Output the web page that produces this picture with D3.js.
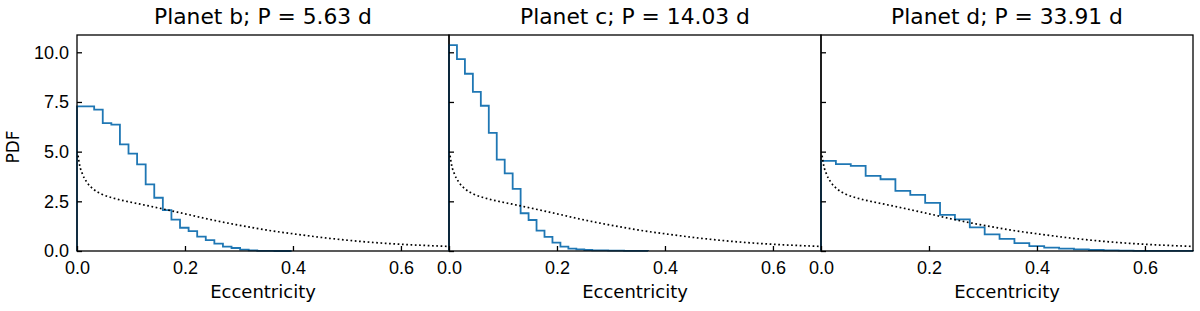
<!DOCTYPE html>
<html>
<head>
<meta charset="utf-8">
<script src="https://cdn.jsdelivr.net/npm/d3@7"></script>
<style>
  body { margin: 0; background: #fff; }
  svg { font-family: "DejaVu Sans", sans-serif; }
</style>
</head>
<body>
<div id="chart"></div>
<script>
// panel titles
const titles = ["Planet b; P = 5.63 d", "Planet c; P = 14.03 d", "Planet d; P = 33.91 d"];

// histogram bin widths (25 bins each, starting at e = 0)
const binWidths = [0.0159, 0.01474, 0.02756];

// step histogram heights
const pdfB = [7.28, 7.28, 7.11, 6.44, 6.36, 5.37, 4.90, 4.36, 3.35, 2.68, 2.06, 1.58, 1.17, 1.00, 0.72,
              0.55, 0.37, 0.22, 0.15, 0.07, 0.03, 0.01, 0.005, 0.0, 0.0];
const pdfC = [10.36, 9.66, 8.92, 8.01, 7.31, 5.94, 4.60, 3.91, 3.13, 1.90, 1.56, 1.03, 0.71, 0.42, 0.22,
              0.12, 0.08, 0.05, 0.03, 0.03, 0.02, 0.02, 0.01, 0.01, 0.01];
const pdfD = [4.54, 4.37, 4.28, 3.78, 3.61, 3.03, 2.82, 2.42, 1.82, 1.59, 1.19, 0.84, 0.61, 0.40, 0.25,
              0.17, 0.12, 0.08, 0.05, 0.03, 0.02, 0.01, 0.01, 0.005, 0.005];

// dotted prior curve (same in all panels)
const priorE   = [0.002, 0.005, 0.010, 0.018, 0.030, 0.046, 0.065, 0.090, 0.115, 0.145, 0.175, 0.210,
                  0.234, 0.280, 0.300, 0.350, 0.410, 0.470, 0.530, 0.600, 0.689];
const priorPdf = [4.80, 4.30, 3.88, 3.47, 3.12, 2.86, 2.68, 2.51, 2.37, 2.20, 2.02, 1.81,
                  1.66, 1.40, 1.30, 1.06, 0.83, 0.63, 0.47, 0.34, 0.23];

const xTicks = [0, 0.2, 0.4, 0.6];
const yTicks = [0, 2.5, 5, 7.5, 10];

const panels = [pdfB, pdfC, pdfD];

const W = 1200, H = 311;
const margin = { top: 35, left: 77 };
const panelW = 372, panelH = 216;

const svg = d3.select("#chart").append("svg")
    .attr("width", W)
    .attr("height", H);

const x = d3.scaleLinear().domain([0, 0.689]).range([0, panelW]);
const y = d3.scaleLinear().domain([0, 10.87]).range([panelH, 0]);

const stepLine = d3.line()
    .curve(d3.curveStepAfter)
    .x(d => x(d[0]))
    .y(d => y(d[1]));

const priorLine = d3.line()
    .curve(d3.curveMonotoneX)
    .x((d, i) => x(priorE[i]))
    .y(d => y(d));

panels.forEach((vals, p) => {
    const g = svg.append("g")
        .attr("transform", `translate(${margin.left + p * panelW},${margin.top})`);

    // build the step outline like matplotlib's histtype='step'
    const w = binWidths[p];
    const pts = [[0, 0]];
    vals.forEach((v, i) => pts.push([i * w, v]));
    pts.push([vals.length * w, vals[vals.length - 1]]);
    pts.push([vals.length * w, 0]);

    g.append("path")
        .attr("d", stepLine(pts))
        .attr("fill", "none")
        .attr("stroke", "#1f77b4")
        .attr("stroke-width", 1.8);

    g.append("path")
        .attr("d", priorLine(priorPdf))
        .attr("fill", "none")
        .attr("stroke", "#000")
        .attr("stroke-width", 1.7)
        .attr("stroke-dasharray", "1.7,2.6");

    // ticks pointing inward
    const xAxis = d3.axisBottom(x).tickValues(xTicks).tickFormat(d3.format(".1f"))
        .tickSizeInner(-5).tickSizeOuter(0).tickPadding(10);
    const yAxis = d3.axisLeft(y).tickValues(yTicks).tickFormat(d3.format(".1f"))
        .tickSizeInner(-5).tickSizeOuter(0).tickPadding(8);

    const gx = g.append("g").attr("transform", `translate(0,${panelH})`).call(xAxis);
    const gy = g.append("g").call(yAxis);
    if (p > 0) gy.selectAll("text").remove();

    [gx, gy].forEach(a => {
        a.select(".domain").remove();
        a.selectAll("line").attr("stroke", "#000").attr("stroke-width", 1.3);
        a.selectAll("text").attr("fill", "#000").style("font-size", "18px");
    });

    // frame
    g.append("rect")
        .attr("width", panelW)
        .attr("height", panelH)
        .attr("fill", "none")
        .attr("stroke", "#000")
        .attr("stroke-width", 1.3);

    g.append("text")
        .attr("x", panelW / 2)
        .attr("y", 24 - margin.top)
        .attr("text-anchor", "middle")
        .style("font-size", "21.8px")
        .text(titles[p]);

    g.append("text")
        .attr("x", panelW / 2)
        .attr("y", 298 - margin.top)
        .attr("text-anchor", "middle")
        .style("font-size", "18px")
        .text("Eccentricity");
});

svg.append("text")
    .attr("transform", "translate(19,147) rotate(-90)")
    .attr("text-anchor", "middle")
    .style("font-size", "17px")
    .text("PDF");
</script>
</body>
</html>
